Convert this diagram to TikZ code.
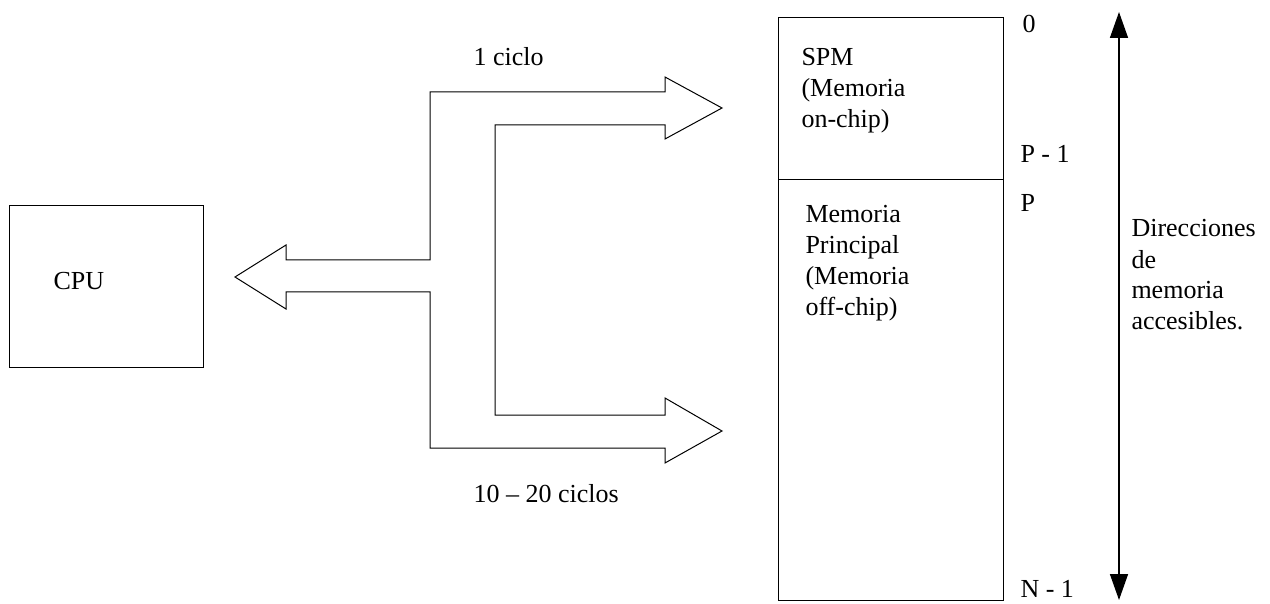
\documentclass[tikz,border=0pt]{standalone}
\usepackage{fontspec}
\setmainfont{Liberation Serif}
\usetikzlibrary{arrows.meta}

\tikzset{
  txt/.style={anchor=base west, inner sep=0pt, align=left, font=\fontsize{26}{31}\selectfont},
  blk/.style={draw, anchor=north west, inner sep=0pt}
}

\begin{document}
\begin{tikzpicture}[x=1pt,y=-1pt,line width=1pt]
	\useasboundingbox (0,0) rectangle (1270,604);
	% boxes
	\node[blk, minimum width=194pt, minimum height=162pt] (cpu) at (9,205) {};
	\node[blk, minimum width=225pt, minimum height=583pt] (mem) at (778,17) {};
	\coordinate (div) at (0,180);
	\draw (mem.west |- div) -- (mem.east |- div);
	% bus
	\draw (665,77) -- (722,108) -- (665,139) -- (665,125) -- (495,125) -- (495,415)
		-- (665,415) -- (665,398) -- (722,431) -- (665,463) -- (665,448) -- (430,448)
		-- (430,292) -- (286,292) -- (286,309) -- (235,277) -- (286,245) -- (286,260)
		-- (430,260) -- (430,92) -- (665,92) -- cycle;
	% address range
	\coordinate (atop) at (1119,12);
	\coordinate (abot) at (1119,600);
	\draw[line width=1.5pt, {Triangle[width=18pt,length=26pt]}-{Triangle[width=18pt,length=26pt]}] (atop) -- (abot);
	% labels
	\node[txt] (tcpu) at (53,290) {CPU};
	\node[txt] (tfast) at (473,66) {1 ciclo};
	\node[txt] (tslow) at (473,502) {10 -- 20 ciclos};
	\node[txt] (tspm) at (801,128) {SPM\\(Memoria\\on-chip)};
	\node[txt] (tmain) at (805,316) {Memoria\\Principal\\(Memoria\\off-chip)};
	\node[txt] (tzero) at (1022,33) {0};
	\node[txt] (tpm) at (1020,163) {P - 1};
	\node[txt] (tp) at (1020,212) {P};
	\node[txt] (tn) at (1020,597) {N - 1};
	\node[txt] (tdir) at (1131,330) {Direcciones\\de\\memoria\\accesibles.};
\end{tikzpicture}
\end{document}
